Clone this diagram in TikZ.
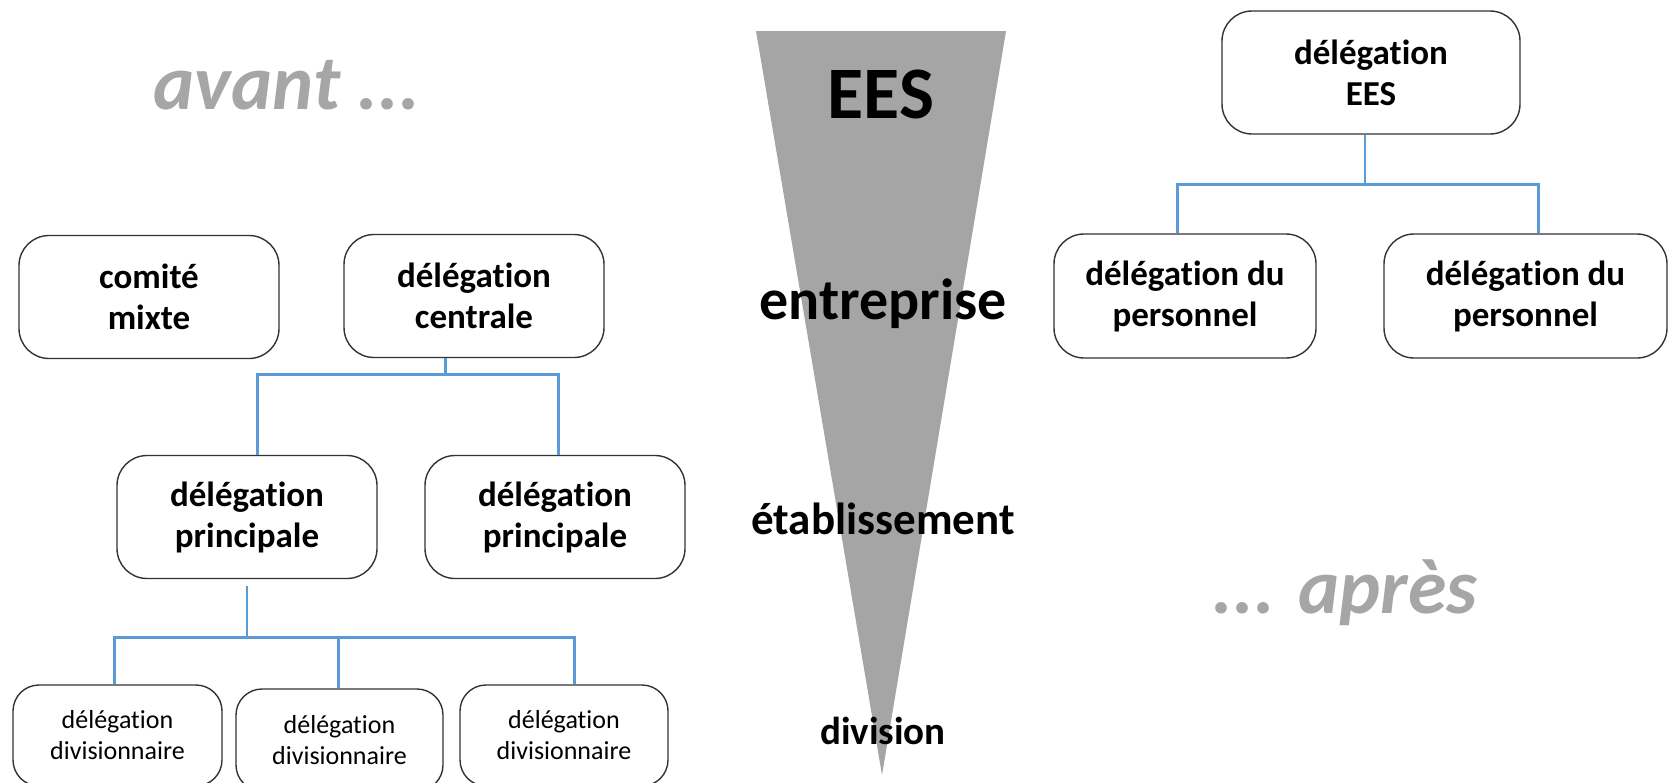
\documentclass[tikz,border=0pt]{standalone}
\usepackage{fontspec}
\setmainfont{Carlito}[Ligatures=NoCommon]
\usepackage{tikz}
\usetikzlibrary{positioning, calc}

\definecolor{wedgegray}{HTML}{A5A5A5}
\definecolor{linkblue}{HTML}{5B9BD5}
\definecolor{notegray}{HTML}{A6A6A6}

\begin{document}
\begin{tikzpicture}[x=1pt, y=-1pt]

        % --- Styles ---
        \tikzstyle{box} = [rectangle, rounded corners=30pt, draw=black!80, line width=1.4pt, align=center, inner sep=0pt, minimum width=260pt, minimum height=123pt, font=\fontsize{35}{41}\selectfont\bfseries]
        \tikzstyle{smallbox} = [box, rounded corners=26pt, minimum width=208pt, minimum height=101pt, font=\fontsize{26}{31}\selectfont]
        \tikzstyle{link} = [linkblue, line width=3pt]
        \tikzstyle{stem} = [linkblue, line width=2pt]
        \tikzstyle{level} = [font=\bfseries]

        \useasboundingbox (0,0) rectangle (1670,782);
        \clip (0,0) rectangle (1670,782);

        % --- Wedge and levels ---
        \fill[wedgegray] (756,31) -- (1006,31) -- (882,775) -- cycle;
        \node (lvl_ees) [level, font=\fontsize{74}{80}\selectfont\bfseries] at (881,94) {EES};
        \node (lvl_ent) [level, font=\fontsize{58}{64}\selectfont\bfseries] at (883,304) {entreprise};
        \node (lvl_eta) [level, font=\fontsize{45}{50}\selectfont\bfseries] at (883,519) {établissement};
        \node (lvl_div) [level, font=\fontsize{39}{44}\selectfont\bfseries] at (883,731) {division};

        % --- Before / after ---
        \node (avant) [text=notegray, font=\fontsize{78}{86}\selectfont\bfseries\itshape] at (287,85) {avant ...};
        \node (apres) [text=notegray, font=\fontsize{78}{86}\selectfont\bfseries\itshape] at (1345,593) {... après};

        % --- Left tree ---
        \node (comite) [box] at (149,297) {comité\\mixte};
        \node (centrale) [box] at (474,296) {délégation\\centrale};
        \node (princ1) [box] at (247,517) {délégation\\principale};
        \node (princ2) [box] at (555,517) {délégation\\principale};
        \node (div1) [smallbox, minimum width=209pt] at (117.5,735.5) {délégation\\divisionnaire};
        \node (div2) [smallbox, minimum width=207pt, minimum height=102pt] at (339.5,740) {délégation\\divisionnaire};
        \node (div3) [smallbox] at (564,735.5) {délégation\\divisionnaire};

        % --- Right tree ---
        \node (deles) [box, minimum width=298pt] at (1371,72.5) {délégation\\EES};
        \node (pers1) [box, minimum width=262pt, minimum height=124pt] at (1185,296) {délégation du\\personnel};
        \node (pers2) [box, minimum width=283pt, minimum height=124pt] at (1525.5,296) {délégation du\\personnel};

        % --- Connectors ---
        \draw[link] ([xshift=-29pt]centrale.south) -- ++(0,16) coordinate (bus_c);
        \draw[link] (bus_c) -| ([xshift=10pt]princ1.north);
        \draw[link] (bus_c) -| ([xshift=3pt]princ2.north);

        \draw[stem] ([yshift=-7pt]princ1.south) -- ++(0,51) coordinate (bus_p);
        \draw[link] (bus_p) -| ([xshift=-3pt]div1.north);
        \draw[link] (bus_p) -| ([xshift=-1pt]div2.north);
        \draw[link] (bus_p) -| ([xshift=10pt]div3.north);

        \draw[stem] ([xshift=-6pt]deles.south) -- ++(0,50) coordinate (bus_e);
        \draw[link] (bus_e) -| ([xshift=-8pt]pers1.north);
        \draw[link] (bus_e) -| ([xshift=13pt]pers2.north);
\end{tikzpicture}
\end{document}
